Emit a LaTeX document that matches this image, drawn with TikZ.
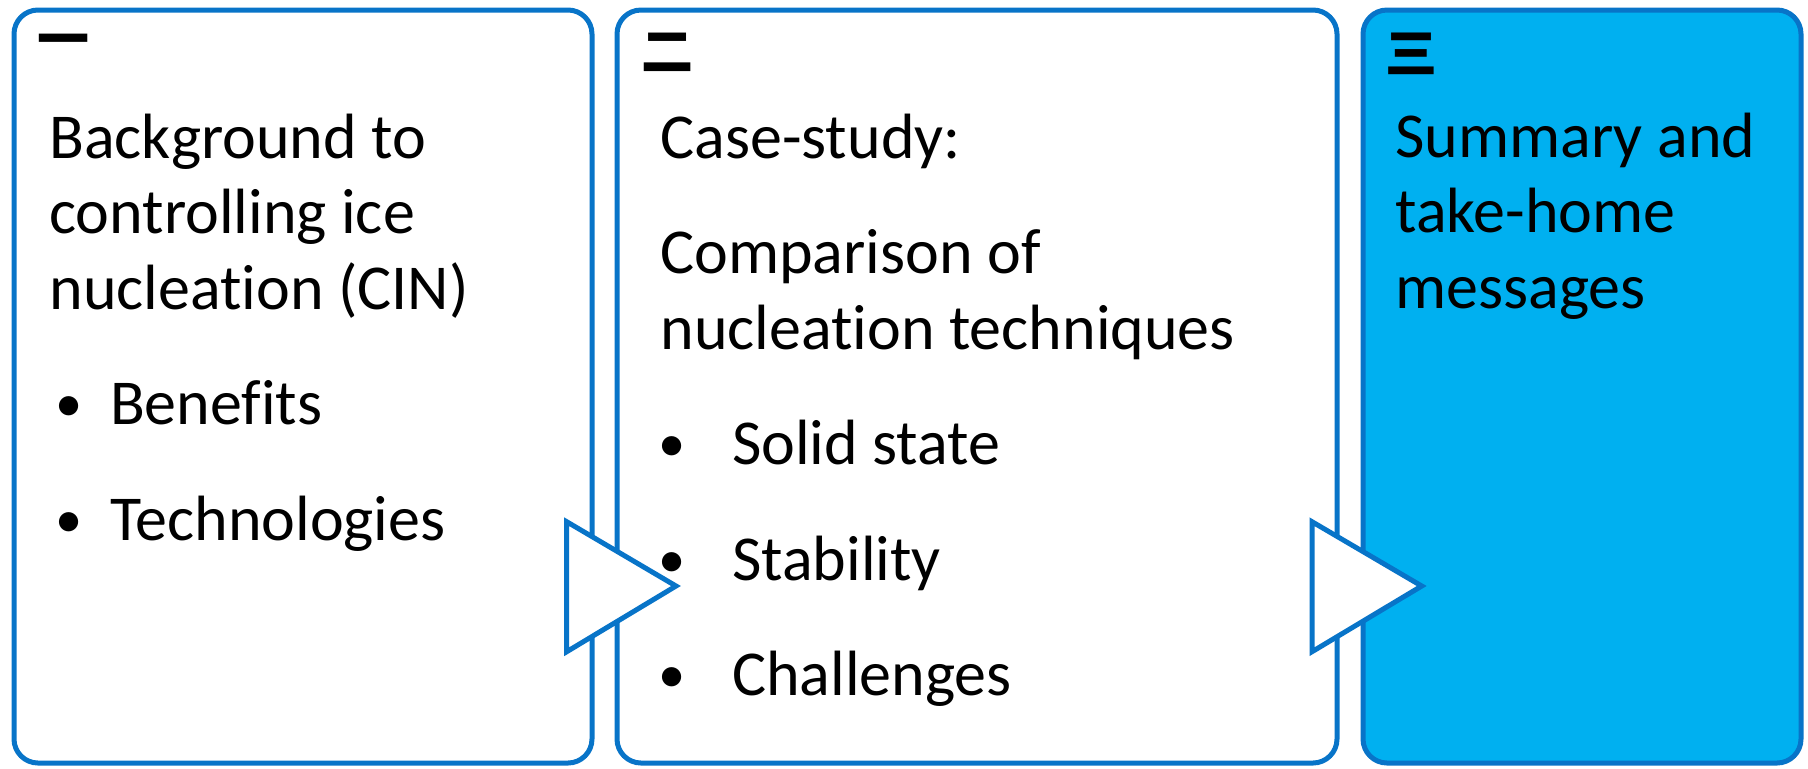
\documentclass[tikz,border=0pt]{standalone}
\usepackage{fontspec}
\setmainfont{Carlito}[Ligatures=NoCommon]
\newfontfamily\cjk{Noto Sans CJK SC}
\definecolor{boxblue}{RGB}{8,116,200}
\definecolor{fillblue}{RGB}{0,176,240}

\begin{document}
\begin{tikzpicture}
        [x=0.5pt,y=-0.5pt,
        boxdecorate/.style={draw=boxblue,line width=2.5pt,rounded corners=12pt},%
        arrowdecorate/.style={draw=boxblue,fill=white,line width=2.5pt},%
        textdecorate/.style={anchor=base west,inner sep=0pt,font=\fontsize{32}{38}\selectfont},%
        numdecorate/.style={anchor=base west,inner sep=0pt,font=\cjk\bfseries\fontsize{26}{26}\selectfont}]
        \useasboundingbox (0,0) rectangle (1808,768);
        %% boxes

        \foreach \boxname/\xa/\xb/\colour in { one/14/592/white,
          two/617/1337/white, three/1363/1801/fillblue}
        {
          \path[boxdecorate,fill=\colour] (\xa,10) rectangle (\xb,763);
          \coordinate (\boxname) at (\xa,10);
        }
        %% numbers
        \foreach \numname/\x/\y/\numtext in {numone/37/58/一, numtwo/641/70/二, numthree/1385/72/三}
        {
          \node (\numname) at (\x,\y) [numdecorate] {\numtext};
        }
        %% text lines
        \foreach \linename/\x/\y/\linetext in { onea/49/158/Background to,
          oneb/49/233.5/controlling ice, onec/49/309/nucleation (CIN),
          twoa/660/158/Case-study:, twob/660/273.5/Comparison of,
          twoc/660/349/nucleation techniques, threea/1395/157/Summary and,
          threeb/1395/232.5/take-home, threec/1395/308/messages}
        {
          \node (\linename) at (\x,\y) [textdecorate] {\linetext};
        }
        %% bullet items
        \foreach \itemname/\x/\y/\gap/\itemtext in { benefits/55/424.5/54.6/Benefits,
          technologies/55/540/54.6/Technologies, solid/658/464.5/73.7/Solid state,
          stability/658/580/73.7/Stability, challenges/658/695.5/73.7/Challenges}
        {
          \node (\itemname) at (\x,\y) [textdecorate]
            {\makebox[\gap\dimexpr0.5pt\relax][l]{\raisebox{1.5pt}{\scalebox{0.85}{\textbullet}}}\itemtext};
        }
        %% arrows
        \foreach \xa/\xb in {566.7/676, 1312/1421.7}
        {
          \draw[arrowdecorate] (\xa,521.7) -- (\xb,586) -- (\xa,651.7) -- cycle;
        }
      \end{tikzpicture}
\end{document}
